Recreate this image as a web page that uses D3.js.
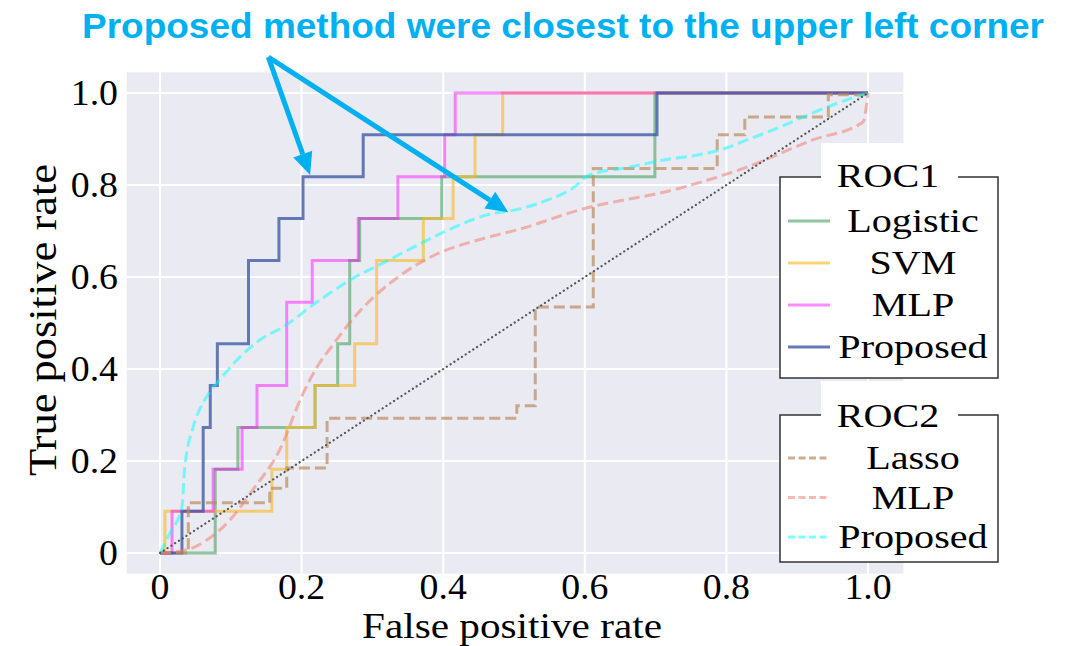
<!DOCTYPE html>
<html lang="en">
<head>
<meta charset="UTF-8">
<script src="https://cdn.jsdelivr.net/npm/d3@7"></script>
<style>
  body { margin: 0; background: #fff; }
</style>
</head>
<body>
<script>
// ---- data ----
const ticks = [0, 0.2, 0.4, 0.6, 0.8, 1.0];
const tickLabels = ["0", "0.2", "0.4", "0.6", "0.8", "1.0"];

// ROC1 (solid step curves)
const logisticFpr = [0, 0.078, 0.078, 0.11, 0.11, 0.219, 0.219, 0.251, 0.251, 0.268, 0.268, 0.282, 0.282, 0.398, 0.398, 0.699, 0.699, 1.0];
const logisticTpr = [0, 0, 0.182, 0.182, 0.273, 0.273, 0.364, 0.364, 0.455, 0.455, 0.636, 0.636, 0.727, 0.727, 0.818, 0.818, 1.0, 1.0];
const svmFpr = [0, 0.007, 0.007, 0.158, 0.158, 0.179, 0.179, 0.219, 0.219, 0.275, 0.275, 0.306, 0.306, 0.372, 0.372, 0.414, 0.414, 0.445, 0.445, 0.484, 0.484, 1.0];
const svmTpr = [0, 0, 0.091, 0.091, 0.182, 0.182, 0.273, 0.273, 0.364, 0.364, 0.455, 0.455, 0.636, 0.636, 0.727, 0.727, 0.818, 0.818, 0.909, 0.909, 1.0, 1.0];
const mlpFpr = [0, 0.017, 0.017, 0.075, 0.075, 0.116, 0.116, 0.137, 0.137, 0.179, 0.179, 0.215, 0.215, 0.28, 0.28, 0.336, 0.336, 0.402, 0.402, 0.417, 0.417, 1.0];
const mlpTpr = [0, 0, 0.091, 0.091, 0.182, 0.182, 0.273, 0.273, 0.364, 0.364, 0.545, 0.545, 0.636, 0.636, 0.727, 0.727, 0.818, 0.818, 0.909, 0.909, 1.0, 1.0];
const proposedFpr = [0, 0.031, 0.031, 0.061, 0.061, 0.071, 0.071, 0.081, 0.081, 0.125, 0.125, 0.168, 0.168, 0.202, 0.202, 0.287, 0.287, 0.702, 0.702, 1.0];
const proposedTpr = [0, 0, 0.091, 0.091, 0.273, 0.273, 0.364, 0.364, 0.455, 0.455, 0.636, 0.636, 0.727, 0.727, 0.818, 0.818, 0.909, 0.909, 1.0, 1.0];

// ROC2 (dashed)
const lassoFpr = [0, 0.04, 0.04, 0.155, 0.155, 0.179, 0.179, 0.236, 0.236, 0.504, 0.504, 0.53, 0.53, 0.612, 0.612, 0.787, 0.787, 0.826, 0.826, 0.944, 0.944, 1.0, 1.0];
const lassoTpr = [0, 0, 0.109, 0.109, 0.141, 0.141, 0.185, 0.185, 0.293, 0.293, 0.32, 0.32, 0.535, 0.535, 0.836, 0.836, 0.909, 0.909, 0.948, 0.948, 0.996, 0.996, 1.0];
const mlp2Fpr = [0, 0.038, 0.066, 0.099, 0.131, 0.169, 0.2, 0.222, 0.244, 0.273, 0.301, 0.339, 0.391, 0.448, 0.508, 0.593, 0.734, 0.829, 0.922, 0.993, 1.0];
const mlp2Tpr = [0, 0.007, 0.028, 0.072, 0.137, 0.224, 0.34, 0.405, 0.452, 0.51, 0.555, 0.603, 0.65, 0.68, 0.704, 0.746, 0.793, 0.839, 0.898, 0.937, 1.0];
const proposed2Fpr = [0, 0.014, 0.031, 0.035, 0.047, 0.066, 0.088, 0.109, 0.141, 0.179, 0.212, 0.24, 0.268, 0.321, 0.367, 0.414, 0.462, 0.508, 0.547, 0.583, 0.607, 0.664, 0.71, 0.758, 0.791, 0.829, 0.876, 0.922, 0.97, 1.0];
const proposed2Tpr = [0, 0.043, 0.1, 0.187, 0.274, 0.34, 0.383, 0.42, 0.463, 0.496, 0.535, 0.565, 0.593, 0.635, 0.672, 0.707, 0.735, 0.748, 0.767, 0.793, 0.822, 0.839, 0.854, 0.865, 0.876, 0.898, 0.926, 0.957, 0.985, 1.0];

const chanceFpr = [0, 1];
const chanceTpr = [0, 1];

const roc1Names = ["Logistic", "SVM", "MLP", "Proposed"];
const roc2Names = ["Lasso", "MLP", "Proposed"];

// annotation arrows: start and tips in data units
const arrowFrom = [0.153, 1.078];
const arrowTips = [[0.212, 0.822], [0.492, 0.741]];
const titleText = "Proposed method were closest to the upper left corner";

// ---- styles ----
const roc1Styles = [
  { color: "#55a868", opacity: 0.65 },
  { color: "#f7b924", opacity: 0.62 },
  { color: "#ff00ff", opacity: 0.45 },
  { color: "#3f5aa6", opacity: 0.8 }
];
const roc2Styles = [
  { color: "#b98c5c", opacity: 0.7 },
  { color: "#f08070", opacity: 0.55 },
  { color: "#00ffff", opacity: 0.5 }
];
const blue = "#00b0f0";
const SERIF = "'Liberation Serif', 'Times New Roman', serif";

const W = 1074, H = 646;
const svg = d3.select("body").append("svg").attr("width", W).attr("height", H);

const x = d3.scaleLinear().domain([0, 1]).range([160, 868]);
const y = d3.scaleLinear().domain([0, 1]).range([553, 93]);
const xLo = -0.047, xHi = 1.05, yLo = -0.045, yHi = 1.045;

// the reference text is a little wider than plain Times
const stretch = (sel, k) => sel.attr("textLength", function () { return this.getComputedTextLength() * k; })
  .attr("lengthAdjust", "spacingAndGlyphs");

// background and grid
svg.append("rect")
  .attr("x", x(xLo)).attr("y", y(yHi))
  .attr("width", x(xHi) - x(xLo)).attr("height", y(yLo) - y(yHi))
  .attr("fill", "#eaeaf2");

svg.append("g").selectAll("line").data(ticks).join("line")
  .attr("x1", d => x(d)).attr("x2", d => x(d))
  .attr("y1", y(yLo)).attr("y2", y(yHi))
  .attr("stroke", "#fff").attr("stroke-width", 2);
svg.append("g").selectAll("line").data(ticks).join("line")
  .attr("y1", d => y(d)).attr("y2", d => y(d))
  .attr("x1", x(xLo)).attr("x2", x(xHi))
  .attr("stroke", "#fff").attr("stroke-width", 2);

// tick labels
svg.append("g").selectAll("text").data(ticks).join("text")
  .attr("font-family", SERIF).attr("fill", "#000")
  .attr("x", d => x(d)).attr("y", 599)
  .attr("text-anchor", "middle").attr("font-size", 35)
  .text((d, i) => tickLabels[i])
  .call(stretch, 1.08);
svg.append("g").selectAll("text").data(ticks).join("text")
  .attr("font-family", SERIF).attr("fill", "#000")
  .attr("x", 118).attr("y", d => y(d) + 12)
  .attr("text-anchor", "end").attr("font-size", 35)
  .text((d, i) => tickLabels[i])
  .call(stretch, 1.08);

// axis titles
svg.append("text").attr("font-family", SERIF).attr("fill", "#000")
  .attr("x", 512).attr("y", 638).attr("text-anchor", "middle")
  .attr("font-size", 35).text("False positive rate")
  .attr("textLength", 300).attr("lengthAdjust", "spacingAndGlyphs");
svg.append("text").attr("font-family", SERIF).attr("fill", "#000")
  .attr("transform", "translate(56,320) rotate(-90)")
  .attr("text-anchor", "middle").attr("font-size", 40)
  .text("True positive rate")
  .attr("textLength", 312).attr("lengthAdjust", "spacingAndGlyphs");

// curves
const zip = (a, b) => a.map((v, i) => [v, b[i]]);
const line = d3.line().x(d => x(d[0])).y(d => y(d[1]));
const smooth = d3.line().x(d => x(d[0])).y(d => y(d[1])).curve(d3.curveMonotoneX);

const roc1 = [zip(logisticFpr, logisticTpr), zip(svmFpr, svmTpr), zip(mlpFpr, mlpTpr), zip(proposedFpr, proposedTpr)];
const roc2 = [zip(lassoFpr, lassoTpr), zip(mlp2Fpr, mlp2Tpr), zip(proposed2Fpr, proposed2Tpr)];

svg.append("g").selectAll("path").data(roc1).join("path")
  .attr("d", line).attr("fill", "none")
  .attr("stroke", (d, i) => roc1Styles[i].color)
  .attr("stroke-opacity", (d, i) => roc1Styles[i].opacity)
  .attr("stroke-width", 3);

svg.append("g").selectAll("path").data(roc2).join("path")
  .attr("d", (d, i) => i === 0 ? line(d) : smooth(d))
  .attr("fill", "none")
  .attr("stroke", (d, i) => roc2Styles[i].color)
  .attr("stroke-opacity", (d, i) => roc2Styles[i].opacity)
  .attr("stroke-width", 3)
  .attr("stroke-dasharray", "11,5");

svg.append("path").datum(zip(chanceFpr, chanceTpr))
  .attr("d", line).attr("fill", "none")
  .attr("stroke", "#555").attr("stroke-width", 2.2)
  .attr("stroke-linecap", "round").attr("stroke-dasharray", "0.1,4.4");

// legends
function legend(top, bottom, title, titleBase, names, styles, dashed) {
  const g = svg.append("g");
  g.append("rect").attr("x", 780).attr("y", top).attr("width", 218).attr("height", bottom - top)
    .attr("fill", "#fff").attr("stroke", "#333").attr("stroke-width", 1.5);
  g.append("rect").attr("x", 821).attr("y", top - 34).attr("width", 137).attr("height", 35)
    .attr("fill", "#fff");
  g.append("text").attr("font-family", SERIF).attr("fill", "#000")
    .attr("x", 888).attr("y", titleBase)
    .attr("text-anchor", "middle").attr("font-size", 34).text(title).call(stretch, 1.18);
  const rowH = dashed ? 39.5 : 42;
  const first = dashed ? 458 : 221;
  names.forEach((n, i) => {
    const cy = first + i * rowH;
    g.append("line").attr("x1", 788).attr("x2", 830).attr("y1", cy).attr("y2", cy)
      .attr("stroke", styles[i].color).attr("stroke-opacity", styles[i].opacity)
      .attr("stroke-width", 3).attr("stroke-dasharray", dashed ? "7,3.5" : null);
    g.append("text").attr("font-family", SERIF).attr("fill", "#000")
      .attr("x", 913).attr("y", cy + 11)
      .attr("text-anchor", "middle").attr("font-size", 34).text(n).call(stretch, 1.18);
  });
}
legend(177, 378, "ROC1", 187, roc1Names, roc1Styles, false);
legend(415, 562, "ROC2", 427, roc2Names, roc2Styles, true);

// annotation
svg.append("text")
  .attr("x", 82).attr("y", 38)
  .attr("font-family", "'Liberation Sans', Arial, sans-serif")
  .attr("font-weight", "bold").attr("font-size", 35)
  .attr("fill", blue)
  .attr("textLength", 962).attr("lengthAdjust", "spacingAndGlyphs")
  .text(titleText);

arrowTips.forEach(t => {
  const x1 = x(arrowFrom[0]), y1 = y(arrowFrom[1]);
  const x2 = x(t[0]), y2 = y(t[1]);
  const ang = Math.atan2(y2 - y1, x2 - x1);
  const len = 22, half = 10;
  const bx = x2 - len * Math.cos(ang), by = y2 - len * Math.sin(ang);
  svg.append("line").attr("x1", x1).attr("y1", y1).attr("x2", bx).attr("y2", by)
    .attr("stroke", blue).attr("stroke-width", 5);
  const px = -Math.sin(ang) * half, py = Math.cos(ang) * half;
  svg.append("path")
    .attr("d", `M${x2},${y2}L${bx + px},${by + py}L${bx - px},${by - py}Z`)
    .attr("fill", blue);
});
</script>
</body>
</html>
